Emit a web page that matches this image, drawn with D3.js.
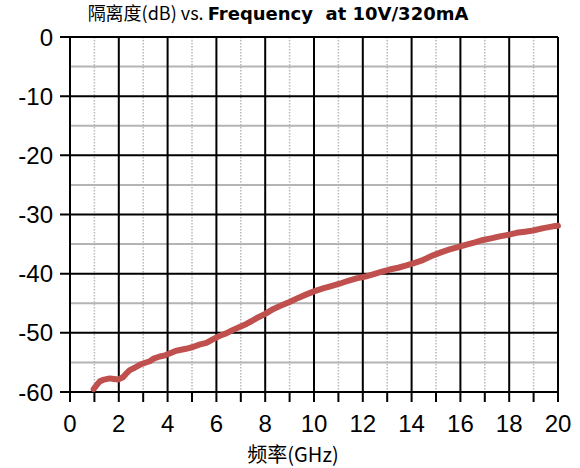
<!DOCTYPE html>
<html><head><meta charset="utf-8">
<script src="https://cdn.jsdelivr.net/npm/d3@7"></script>
<style>body{margin:0;background:#fff}svg{display:block}</style>
</head><body>
<script>
const freq = [0.97,1.1,1.22,1.4,1.63,1.8,1.97,2.17,2.3,2.45,2.65,2.86,3.05,3.27,3.45,3.68,3.9,4.08,4.3,4.5,4.75,5.04,5.3,5.59,5.85,6.14,6.4,6.68,6.95,7.23,7.45,7.7,8.0,8.32,8.65,9.0,9.35,9.69,10.0,10.37,10.7,11.05,11.4,11.74,12.1,12.42,12.75,13.1,13.45,13.79,14.1,14.4,14.88,15.2,15.56,15.9,16.25,16.6,16.93,17.3,17.61,18.0,18.3,18.65,18.98,19.4,19.8,20.0];
const isolation = [-59.5,-58.8,-58.2,-57.9,-57.7,-57.8,-57.9,-57.5,-56.9,-56.3,-55.9,-55.4,-55.1,-54.8,-54.3,-54.0,-53.8,-53.5,-53.1,-52.9,-52.7,-52.4,-52.0,-51.7,-51.1,-50.5,-50.1,-49.5,-49.0,-48.5,-48.0,-47.4,-46.8,-46.0,-45.4,-44.8,-44.1,-43.5,-43.0,-42.5,-42.1,-41.7,-41.2,-40.8,-40.5,-40.1,-39.7,-39.3,-39.0,-38.6,-38.2,-37.8,-36.9,-36.4,-35.9,-35.5,-35.1,-34.7,-34.3,-34.0,-33.7,-33.4,-33.1,-32.9,-32.7,-32.3,-32.0,-31.9];
const xTicks = [0,2,4,6,8,10,12,14,16,18,20];
const xMinor = [1,3,5,7,9,11,13,15,17,19];
const yTicks = [0,-10,-20,-30,-40,-50,-60];
const yMinor = [-5,-15,-25,-35,-45,-55];
const titleNormal = "隔离度(dB) vs. ";
const titleBold = "Frequency  at 10V/320mA";
const xLabel = "频率(GHz)";

const W = 580, H = 468;
const m = {l:70, r:22, t:37, b:76};
const svg = d3.select("body").append("svg").attr("width",W).attr("height",H);
const x = d3.scaleLinear().domain([0,20]).range([m.l, W-m.r]);
const y = d3.scaleLinear().domain([-60,0]).range([H-m.b, m.t]);
const font = "'Liberation Sans', Arial, sans-serif";

// minor horizontal grid
svg.append("g").selectAll("line").data(yMinor).join("line")
  .attr("x1",x(0)).attr("x2",x(20)).attr("y1",d=>y(d)).attr("y2",d=>y(d))
  .attr("stroke","#b4b4b4").attr("stroke-width",2);
// minor vertical dotted
svg.append("g").selectAll("line").data(xMinor).join("line")
  .attr("x1",d=>x(d)).attr("x2",d=>x(d)).attr("y1",y(0)).attr("y2",y(-60))
  .attr("stroke","#b8b8b8").attr("stroke-width",1.5).attr("stroke-dasharray","1.5,1.5");
// major grid
svg.append("g").selectAll("line").data(yTicks).join("line")
  .attr("x1",x(0)-10).attr("x2",x(20)).attr("y1",d=>y(d)).attr("y2",d=>y(d))
  .attr("stroke","#000").attr("stroke-width",2);
svg.append("g").selectAll("line").data(xTicks).join("line")
  .attr("x1",d=>x(d)).attr("x2",d=>x(d)).attr("y1",y(0)).attr("y2",y(-60)+10)
  .attr("stroke","#000").attr("stroke-width",2);
svg.append("g").selectAll("line").data(xMinor).join("line")
  .attr("x1",d=>x(d)).attr("x2",d=>x(d)).attr("y1",y(-60)).attr("y2",y(-60)+10)
  .attr("stroke","#000").attr("stroke-width",2);

// tick labels
svg.append("g").selectAll("text").data(yTicks).join("text")
  .attr("x",x(0)-17).attr("y",d=>y(d)).attr("dy","0.36em")
  .attr("text-anchor","end").attr("font-family",font).attr("font-size",24)
  .text(d=>d);
svg.append("g").selectAll("text").data(xTicks).join("text")
  .attr("x",d=>x(d)).attr("y",y(-60)+40)
  .attr("text-anchor","middle").attr("font-family",font).attr("font-size",24)
  .text(d=>d);

// curve
const line = d3.line().x((d,i)=>x(freq[i])).y(d=>y(d)).curve(d3.curveLinear);
svg.append("path").datum(isolation).attr("d",line)
  .attr("fill","none").attr("stroke","#c0504d").attr("stroke-width",6)
  .attr("stroke-linejoin","round").attr("stroke-linecap","round");

// title
const t = svg.append("text").attr("x",278).attr("y",20).attr("text-anchor","middle")
  .attr("font-size",18).attr("font-family","'Noto Sans CJK SC', 'DejaVu Sans', sans-serif");
t.append("tspan").text(titleNormal);
t.append("tspan").attr("font-weight","bold").attr("font-family","'DejaVu Sans', sans-serif")
  .style("white-space","pre").text(titleBold);

svg.append("text").attr("x",293).attr("y",462).attr("text-anchor","middle")
  .attr("font-size",20).attr("font-family","'Noto Sans CJK SC', 'Liberation Sans', sans-serif")
  .text(xLabel);
</script>
</body></html>
